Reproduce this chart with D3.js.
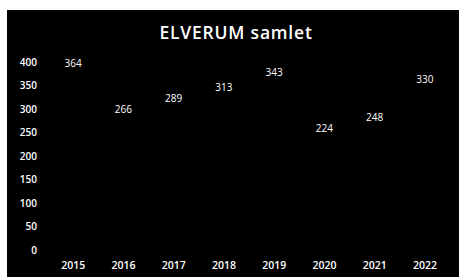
<!DOCTYPE html>
<html>
<head>
<meta charset="utf-8">
<title>ELVERUM samlet</title>
<script src="https://cdn.jsdelivr.net/npm/d3@7"></script>
<style>
  body { margin: 0; background: #fff; }
  text { font-family: "Open Sans", "Noto Sans", sans-serif; fill: #fff; }
</style>
</head>
<body>
<div id="container"></div>
<script>
  // Data.
  const years = ["2015", "2016", "2017", "2018", "2019", "2020", "2021", "2022"];
  const values = [364, 266, 289, 313, 343, 224, 248, 330];
  const yTicks = [0, 50, 100, 150, 200, 250, 300, 350, 400];

  const width = 459;
  const height = 277;

  const svg = d3.create("svg")
      .attr("width", width)
      .attr("height", height);

  // Black chart area.
  svg.append("rect")
      .attr("x", 7)
      .attr("y", 10)
      .attr("width", width - 7)
      .attr("height", height - 10)
      .attr("fill", "#000");

  const x = d3.scaleBand()
      .domain(years)
      .range([48, 450]);

  const y = d3.scaleLinear()
      .domain([0, 400])
      .range([250, 62]);

  // Title.
  svg.append("text")
      .attr("x", 236)
      .attr("y", 34)
      .attr("text-anchor", "middle")
      .attr("dominant-baseline", "middle")
      .attr("font-size", 17.5)
      .attr("font-weight", 600)
      .attr("letter-spacing", 0.8)
      .text("ELVERUM samlet");

  // Y axis (labels only).
  const yAxis = svg.append("g")
      .attr("transform", "translate(37,0)")
      .call(d3.axisLeft(y).tickValues(yTicks).tickSize(0).tickPadding(0));
  yAxis.select(".domain").remove();
  yAxis.selectAll("text")
      .attr("font-size", 10)
      .attr("font-weight", 600)
      .style("fill", "#fff");

  // X axis (labels only).
  const xAxis = svg.append("g")
      .attr("transform", "translate(0,262)")
      .call(d3.axisBottom(x).tickSize(0).tickPadding(0));
  xAxis.select(".domain").remove();
  xAxis.selectAll("text")
      .attr("font-size", 10.5)
      .attr("font-weight", 600)
      .style("fill", "#fff");

  // Bars are the same colour as the background; only the labels show.
  svg.append("g")
      .selectAll("rect")
      .data(years)
      .join("rect")
      .attr("x", d => x(d) + x.bandwidth() * 0.2)
      .attr("y", (d, i) => y(values[i]))
      .attr("width", x.bandwidth() * 0.6)
      .attr("height", (d, i) => y(0) - y(values[i]))
      .attr("fill", "#000");

  svg.append("g")
      .selectAll("text")
      .data(years)
      .join("text")
      .attr("x", d => x(d) + x.bandwidth() / 2)
      .attr("y", (d, i) => y(values[i]) - 15)
      .attr("text-anchor", "middle")
      .attr("dominant-baseline", "middle")
      .attr("font-size", 10)
      .attr("font-weight", 500)
      .text((d, i) => values[i]);

  document.getElementById("container").append(svg.node());
</script>
</body>
</html>
